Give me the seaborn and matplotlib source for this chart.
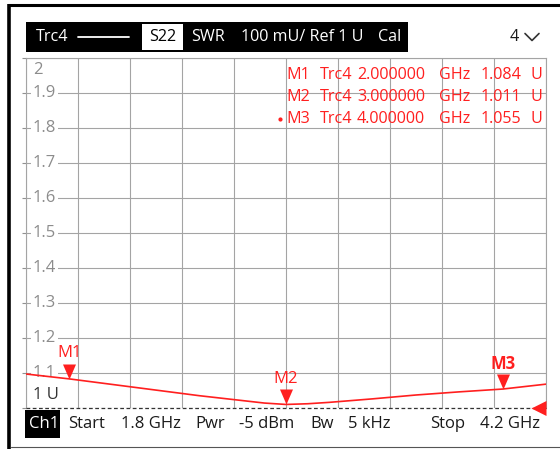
import numpy as np
import pandas as pd
import seaborn as sns
import matplotlib.pyplot as plt
from matplotlib.patches import Rectangle
from matplotlib.path import Path

# trace S22 (SWR)
freq_ghz = [1.8, 2.0, 2.2, 2.4, 2.6, 2.8, 2.9, 3.0, 3.1, 3.2, 3.4, 3.6, 3.8, 4.0, 4.2]
swr = [1.098, 1.084, 1.068, 1.052, 1.036, 1.022, 1.015, 1.011, 1.013, 1.017,
       1.027, 1.038, 1.047, 1.055, 1.069]

marker_names = ["M1", "M2", "M3"]
marker_freq = [2.0, 3.0, 4.0]
marker_swr = [1.084, 1.011, 1.055]
marker_freq_txt = ["2.000000", "3.000000", "4.000000"]
marker_swr_txt = ["1.084", "1.011", "1.055"]

ytick_vals = [1.9, 1.8, 1.7, 1.6, 1.5, 1.4, 1.3, 1.2, 1.1]
header_items = ["SWR", "100 mU/ Ref 1 U", "Cal"]
footer_items = ["Start", "1.8 GHz", "Pwr", "-5 dBm", "Bw", "5 kHz", "Stop", "4.2 GHz"]

sns.set_theme(style="white")
plt.rcParams["font.family"] = ["Open Sans", "DejaVu Sans"]

W, H = 560, 449
RED = "#ff1f1f"
FS = 12
FS_HEAD = 11.6
FS_TAB = 11.6

fig = plt.figure(figsize=(W / 100, H / 100), dpi=100)
fig.patch.set_facecolor("white")
ax = fig.add_axes([26 / W, 1 - 408.3 / H, 520 / W, 350 / H])

df = pd.DataFrame({"freq": freq_ghz, "swr": swr})
sns.lineplot(data=df, x="freq", y="swr", color=RED, lw=1.2, ax=ax, zorder=4)

ax.set_xlim(1.8, 4.2)
ax.set_ylim(1.0, 2.0)
ax.set_xticks(np.linspace(1.8, 4.2, 11))
ax.set_yticks(np.linspace(1.0, 2.0, 11))
ax.grid(True, color="#a4a4a4", lw=0.8)
ax.tick_params(axis="x", length=0, labelbottom=False)
ax.tick_params(axis="y", direction="out", length=3, width=0.8, color="#909090",
               labelleft=False, left=True, pad=0)
ax.set_xlabel("")
ax.set_ylabel("")
for side in ["top", "right", "left"]:
    ax.spines[side].set_color("#a4a4a4")
    ax.spines[side].set_linewidth(0.8)
ax.spines["bottom"].set_visible(False)
ax.axhline(1.0, color="#333333", ls=(0, (3, 2)), lw=0.9, zorder=3, clip_on=False)

# y labels sit inside the grid on a white patch
ytr = ax.get_yaxis_transform()
lx = 7 / 520
for v in ytick_vals:
    ax.text(lx, v, f"{v:.1f}", transform=ytr, ha="left", va="center", fontsize=FS,
            color="#8c8c8c", zorder=1.8,
            bbox=dict(facecolor="white", edgecolor="none", pad=1.2))
ax.text(lx, 2.0 - 11.7 / 350, "2", transform=ytr, ha="left", va="center",
        fontsize=FS, color="#8c8c8c", zorder=1.8)
ax.text(lx, 1.0 + 13.3 / 350, "1 U", transform=ytr, ha="left", va="center",
        fontsize=FS, color="#333333", zorder=1.8)

# marker triangles: tip on the trace
tip_down = Path([(0, 0), (-6.5, 15), (6.5, 15), (0, 0)])
ms = (15 / 1.389) * 2
ax.scatter(marker_freq, marker_swr, marker=tip_down, s=ms ** 2, color=RED,
           linewidths=0, zorder=5, clip_on=False)
for name, f, v in zip(marker_names, marker_freq, marker_swr):
    ax.annotate(name, (f, v), xytext=(0, 18.3), textcoords="offset points",
                ha="center", va="center", fontsize=FS, color=RED,
                fontweight="bold" if name == "M3" else "normal", zorder=6)

# reference level arrow on the right edge
ref_tip = Path([(0, 7.5), (-15, 0), (0, -7.5), (0, 7.5)])
ax.scatter([4.2], [1.0], marker=ref_tip, s=((15 / 1.389) * 2) ** 2, color=RED,
           linewidths=0, zorder=6, clip_on=False)

# screen chrome, in pixel coordinates
ov = fig.add_axes([0, 0, 1, 1], zorder=3)
ov.set_xlim(0, W)
ov.set_ylim(H, 0)
ov.axis("off")
ov.patch.set_visible(False)

ov.plot([8, 560], [5.3, 5.3], color="black", lw=2.2, solid_capstyle="butt")
ov.plot([9.3, 9.3], [4, 449], color="black", lw=2.6, solid_capstyle="butt")
ov.plot([11, 560], [446.5, 446.5], color="#555555", lw=0.8)

ov.add_patch(Rectangle((26, 21.7), 382.3, 30, color="black", lw=0))
ov.add_patch(Rectangle((142, 23.7), 41, 26, color="white", lw=0))
ov.text(35.5, 37, "Trc4", color="white", fontsize=FS_HEAD, va="center")
ov.plot([78, 128.6], [36.7, 36.7], color="white", lw=1.3)
ov.text(162.5, 37, "S22", color="black", fontsize=FS_HEAD, va="center", ha="center")
for s, x in zip(header_items, [191, 241, 378]):
    ov.text(x, 37, s, color="white", fontsize=FS_HEAD, va="center")
ov.text(510, 37, "4", color="#1a1a1a", fontsize=FS_HEAD, va="center")
ov.plot([525, 532, 539], [33.5, 40.5, 33.5], color="#333333", lw=1.2)

for i, name in enumerate(marker_names):
    y = 75 + i * 22
    row = [name, "Trc4", marker_freq_txt[i], "GHz", marker_swr_txt[i], "U"]
    for s, x in zip(row, [286, 320, 357, 439, 480.5, 530]):
        ov.text(x, y, s, color=RED, fontsize=FS_TAB, va="center")
ov.plot([280], [119], "o", color=RED, ms=2)

ov.add_patch(Rectangle((25, 410), 35, 28.3, color="black", lw=0))
ov.text(28.6, 424, "Ch1", color="white", fontsize=FS, va="center")
for s, x in zip(footer_items, [68, 121.4, 195.7, 238.6, 310, 348, 430, 480]):
    ov.text(x, 424, s, color="#1a1a1a", fontsize=FS, va="center")

fig.savefig("out.png", dpi=100, facecolor="white")
